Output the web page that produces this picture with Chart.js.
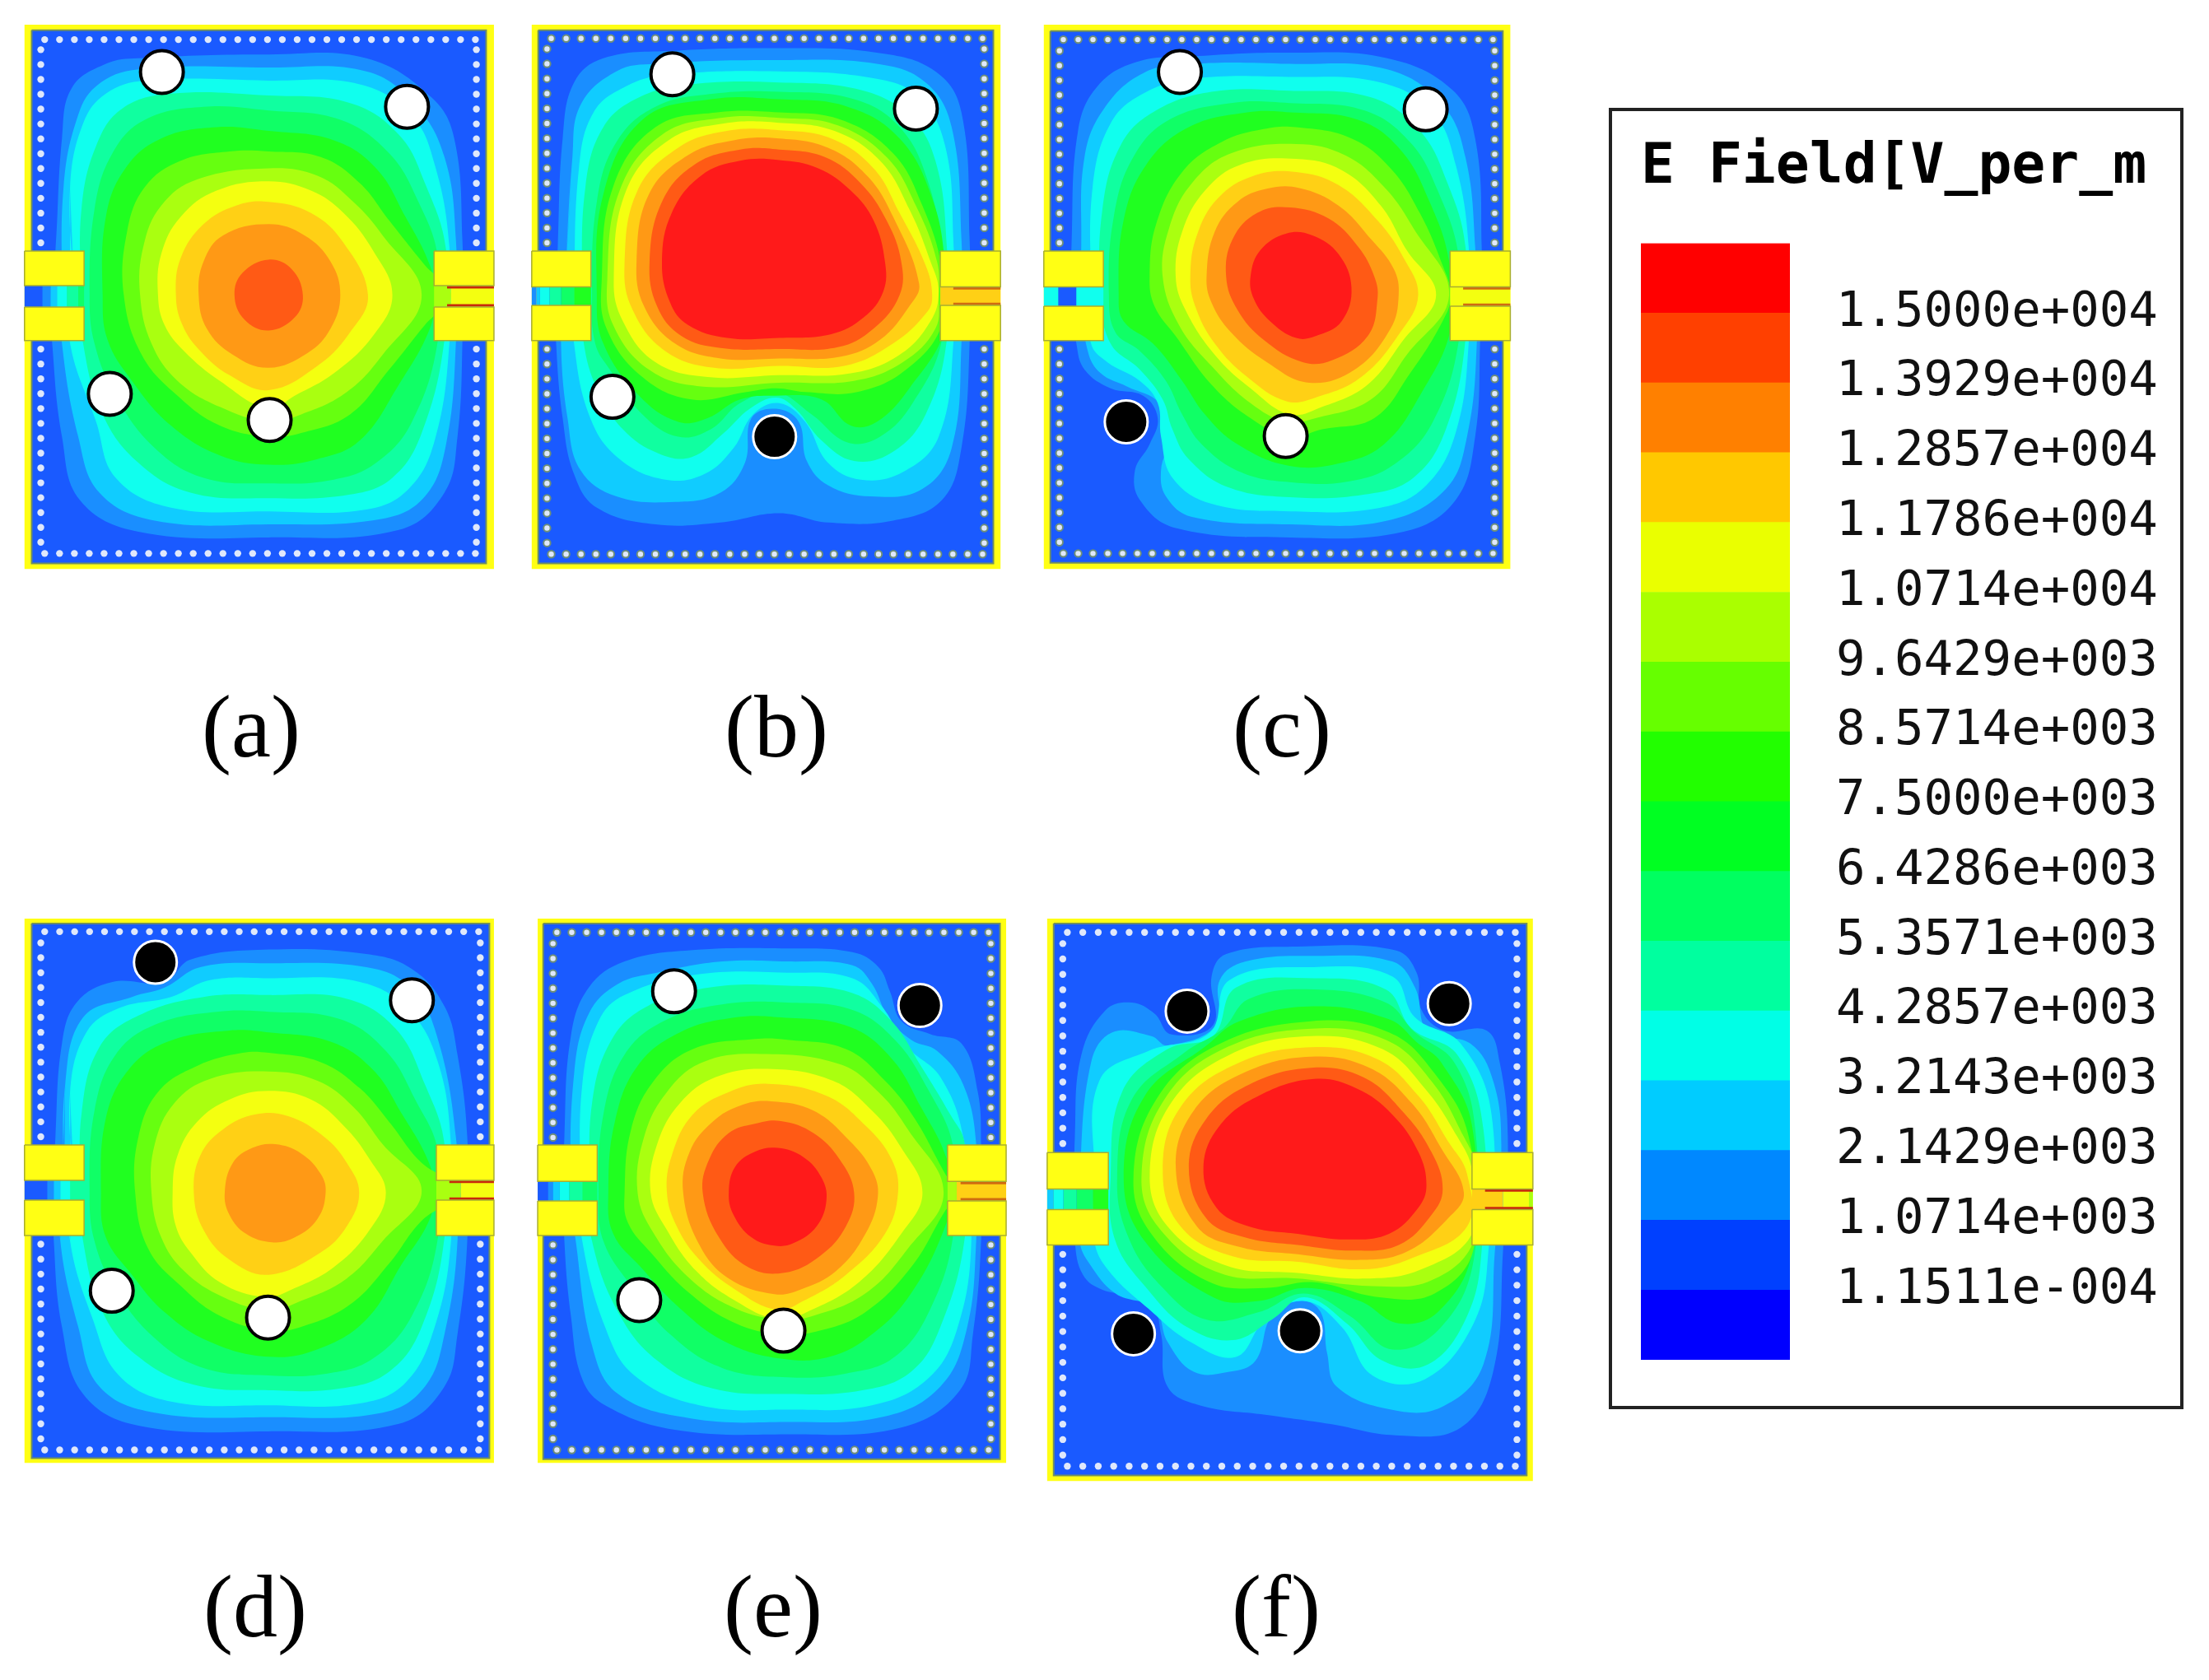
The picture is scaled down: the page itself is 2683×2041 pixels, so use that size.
<!DOCTYPE html>
<html>
<head>
<meta charset="utf-8">
<title>E Field</title>
<script src="https://cdn.jsdelivr.net/npm/chart.js@4"></script>
<style>
html, body { margin: 0; padding: 0; background: #fff; width: 2683px; height: 2041px; overflow: hidden; }
canvas { position: absolute; }
#legendBox { position: absolute; left: 1954px; top: 131px; width: 698px; height: 1581px; box-sizing: border-box; border: 4px solid #222; }
</style>
</head>
<body>
<div id="legendBox"></div>
<script>
// colour bar
const tickLabels = ['1.1511e-004','1.0714e+003','2.1429e+003','3.2143e+003','4.2857e+003','5.3571e+003','6.4286e+003','7.5000e+003','8.5714e+003','9.6429e+003','1.0714e+004','1.1786e+004','1.2857e+004','1.3929e+004','1.5000e+004'];
const levelValues = [0.00011511,1071.4,2142.9,3214.3,4285.7,5357.1,6428.6,7500,8571.4,9642.9,10714,11786,12857,13929,15000];
const bandColors = ['#0000ff','#0040ff','#0088ff','#00ccff','#00ffe6','#00ff9f','#00ff60','#00ff22','#22ff00','#66ff00','#aaff00','#eaff00','#ffc800','#ff8000','#ff4000','#ff0000'];

// colours of the field plots, lowest contour first
const fieldBase = '#1a5aff';
const fieldColors = ['#1a8eff','#10ccff','#10ffee','#10ffa0','#10ff66','#20ff20','#66ff10','#aaff10','#f4ff10','#ffd015','#ff9915','#ff5a15','#ff1a1a'];

const panelLabels = ['(a)','(b)','(c)','(d)','(e)','(f)'];

// contour outlines, x,y pairs, lowest level first
const contoursA = [
 [130,770,145,650,165,350,195,215,300,150,400,135,800,125,1100,135,1300,240,1370,350,1395,620,1395,900,1380,1150,1340,1300,1200,1400,800,1420,400,1405,220,1320,165,1150,135,900],
 [165,770,170,480,210,300,270,210,400,165,800,160,1100,170,1250,260,1340,400,1375,620,1375,900,1345,1170,1280,1310,1150,1370,800,1385,450,1375,280,1300,215,1150,165,900],
 [200,770,190,480,230,310,300,230,420,195,800,195,1080,205,1240,290,1310,420,1355,640,1355,900,1310,1160,1230,1290,1100,1345,800,1350,500,1340,330,1260,270,1110,190,900],
 [225,770,225,540,270,370,350,270,500,230,800,235,1050,255,1200,340,1280,470,1345,650,1340,890,1270,1140,1180,1260,1050,1305,800,1315,560,1300,400,1220,290,1090,230,900],
 [250,770,265,540,320,390,420,300,600,265,800,275,1020,300,1170,390,1260,520,1320,670,1320,890,1240,1110,1130,1220,1000,1265,800,1275,600,1260,450,1180,330,1040,265,900],
 [290,770,300,560,360,430,470,350,640,320,800,330,1000,355,1130,430,1220,560,1295,690,1310,770,1295,860,1200,1010,1080,1160,950,1210,800,1225,650,1200,500,1120,380,1000,305,890],
 [355,770,365,600,420,480,530,410,680,385,800,385,960,400,1080,470,1170,570,1280,690,1360,770,1280,850,1170,970,1050,1090,900,1140,800,1150,650,1120,520,1040,410,930],
 [405,770,415,640,470,530,580,460,800,430,950,450,1060,520,1150,610,1270,770,1150,930,1040,1030,900,1090,800,1110,650,1070,520,1000,440,900],
 [460,770,470,660,530,560,640,490,800,465,930,490,1030,550,1120,650,1180,770,1120,880,1000,980,880,1040,800,1075,650,1000,540,920,480,850],
 [515,770,530,670,600,580,700,530,800,520,930,550,1030,630,1105,770,1050,870,950,960,800,1025,680,985,590,920,535,850],
 [585,770,600,680,660,610,800,580,910,610,990,680,1020,770,990,860,920,925,800,965,690,930,610,860],
 [695,770,720,710,800,675,870,700,905,770,880,830,800,865,725,835]
];
const contoursB = [
 [115,770,120,640,135,350,170,200,260,135,470,115,800,108,1100,120,1280,170,1360,280,1385,620,1385,900,1360,1180,1300,1320,1150,1375,950,1380,800,1355,620,1380,420,1385,240,1340,170,1250,135,1100,115,900],
 [140,770,165,400,190,260,300,170,420,150,800,140,1100,150,1250,200,1330,320,1360,620,1360,900,1330,1180,1240,1290,1080,1310,950,1280,885,1215,860,1110,790,1075,715,1100,695,1220,620,1300,480,1325,300,1310,190,1240,150,1100,130,900],
 [170,770,185,430,230,280,330,210,450,180,800,170,1100,190,1230,240,1310,370,1335,620,1335,900,1290,1150,1180,1245,1050,1265,950,1220,880,1110,800,1060,720,1090,660,1180,570,1250,450,1265,310,1210,220,1100,170,900],
 [195,770,205,480,260,320,370,240,530,205,800,200,1050,220,1200,290,1280,410,1315,640,1315,890,1250,1090,1150,1190,1030,1215,930,1160,850,1075,790,1045,710,1075,630,1140,530,1205,430,1195,320,1130,240,1020,200,900],
 [225,770,240,520,300,360,420,265,600,230,800,225,1030,245,1170,320,1255,460,1300,660,1300,890,1210,1060,1110,1150,1010,1165,900,1090,790,1030,680,1060,590,1130,490,1150,380,1090,280,970,235,900],
 [240,770,260,500,380,300,590,245,800,245,1010,265,1170,350,1270,510,1310,690,1310,860,1200,1020,1100,1110,1020,1120,930,1050,790,1040,680,1050,580,1100,490,1110,370,1040,260,900],
 [255,730,290,480,420,320,610,280,800,280,990,300,1150,390,1240,530,1300,700,1300,850,1190,970,1040,1030,880,1030,790,1020,700,1030,530,1050,380,990,270,860],
 [272,730,310,490,440,340,620,295,800,295,980,315,1130,400,1220,530,1285,680,1290,770,1280,860,1180,950,1030,1000,800,1005,560,1015,400,970,290,850],
 [292,730,330,490,460,355,630,310,800,308,970,330,1110,410,1200,540,1265,680,1290,760,1265,840,1170,930,1020,980,800,985,580,990,420,950,320,840],
 [325,690,365,490,490,375,640,330,800,328,960,350,1090,430,1170,550,1250,690,1270,770,1255,815,1150,900,1000,960,800,960,600,965,450,920,350,810],
 [362,680,400,500,520,395,660,355,800,350,950,375,1070,450,1150,560,1230,740,1200,800,1110,890,990,935,800,940,620,940,480,900,385,800],
 [402,680,440,520,540,420,680,380,800,380,940,400,1050,470,1130,570,1175,680,1170,770,1090,860,980,910,800,915,620,912,500,880,425,800],
 [440,680,470,550,560,450,680,410,800,408,920,430,1020,490,1090,570,1125,680,1120,760,1060,830,960,875,800,885,640,885,520,850,465,790]
];
const contoursC = [
 [130,770,130,640,150,330,210,210,330,145,500,130,800,120,1100,135,1300,220,1370,350,1390,640,1385,900,1370,1150,1310,1320,1150,1405,800,1420,450,1395,340,1320,325,1240,370,1170,395,1100,350,1040,250,1020,170,970,145,900],
 [160,770,160,640,170,400,230,270,350,175,500,150,800,150,1100,165,1270,260,1340,400,1370,640,1375,900,1345,1150,1280,1290,1100,1375,800,1385,500,1365,420,1310,405,1240,430,1150,400,1060,300,1015,220,980,180,920],
 [190,770,195,480,250,310,350,230,500,190,800,185,1080,200,1240,280,1310,420,1350,640,1350,900,1310,1140,1220,1280,1080,1340,800,1350,560,1330,440,1260,405,1150,395,1060,340,1000,240,950,190,900],
 [220,770,225,540,280,370,380,280,560,225,800,222,1050,240,1200,330,1285,470,1340,640,1340,890,1280,1130,1180,1260,1030,1305,800,1312,610,1285,490,1210,440,1130,410,1050,340,970,250,900],
 [245,770,260,560,320,400,430,300,620,255,800,255,1030,275,1170,360,1255,490,1320,670,1320,890,1240,1110,1120,1225,980,1270,800,1272,650,1245,530,1170,470,1090,420,1000,340,920,265,870],
 [275,770,290,570,360,420,490,320,670,280,800,280,1010,300,1140,380,1230,520,1290,680,1295,860,1200,1040,1090,1170,960,1220,800,1228,640,1170,540,1090,470,1000,380,900,290,840],
 [370,720,390,580,470,440,590,360,720,325,820,320,990,350,1110,430,1200,550,1270,690,1295,770,1270,840,1170,980,1060,1100,900,1130,800,1150,680,1100,560,1010,450,880,385,800],
 [410,720,430,590,500,470,620,390,820,365,970,395,1090,480,1180,590,1290,770,1160,930,1050,1050,880,1100,790,1110,680,1060,560,960,460,850],
 [450,720,470,600,540,490,650,420,820,405,960,435,1080,530,1160,650,1250,770,1150,890,1040,1010,900,1070,800,1090,680,1020,570,930,480,810],
 [495,720,515,610,580,510,690,450,820,440,950,475,1070,570,1150,670,1195,770,1140,870,1020,990,880,1045,790,1055,670,990,570,900,510,800],
 [545,720,570,600,640,520,730,485,830,483,950,530,1050,620,1120,700,1135,770,1110,860,1000,970,860,1005,730,950,620,870,560,790],
 [605,720,625,620,700,550,800,535,920,565,1010,640,1060,720,1070,780,1040,880,930,945,840,950,720,890,640,810],
 [680,720,710,650,790,605,870,610,950,660,990,750,960,840,880,880,820,885,740,840,690,780]
];
const contoursD = [
 [140,770,145,620,165,370,210,260,320,205,480,205,560,145,800,118,1100,130,1240,170,1340,270,1380,400,1410,620,1410,900,1380,1150,1340,1290,1200,1390,800,1410,400,1395,230,1310,165,1130,140,900],
 [170,770,175,480,230,300,380,245,480,220,590,165,800,155,1100,165,1230,215,1310,330,1375,620,1380,900,1340,1150,1280,1290,1150,1360,800,1372,450,1360,280,1290,215,1130,160,900],
 [200,770,190,500,240,340,340,275,500,245,620,200,800,195,1080,205,1230,280,1320,420,1360,640,1360,900,1310,1130,1220,1280,1080,1335,800,1340,500,1330,340,1260,260,1110,190,900],
 [225,770,225,560,280,380,400,295,600,245,800,240,1040,250,1190,330,1280,480,1340,640,1340,890,1270,1130,1170,1250,1020,1295,800,1300,570,1285,400,1210,290,1090,230,900],
 [250,770,265,550,330,400,450,320,640,285,800,285,1020,305,1160,390,1250,520,1320,660,1320,890,1240,1100,1120,1215,980,1255,800,1260,600,1240,450,1160,330,1030,265,900],
 [285,770,300,570,370,440,490,365,680,335,800,340,990,365,1120,440,1210,560,1290,685,1310,770,1290,850,1210,960,1100,1110,950,1190,800,1210,620,1170,480,1090,380,990,300,890],
 [390,770,400,620,460,500,580,430,720,395,800,395,960,420,1080,490,1170,580,1270,690,1390,765,1270,845,1170,960,1050,1070,900,1130,800,1140,650,1100,530,1020,430,920],
 [440,770,450,640,510,530,620,465,800,445,950,470,1060,540,1150,640,1270,765,1150,900,1040,1000,900,1060,800,1085,660,1050,540,980,470,890],
 [505,770,520,670,580,580,680,520,800,497,930,520,1030,590,1110,680,1160,770,1110,870,1000,970,870,1030,790,1050,650,1010,560,930,515,860],
 [570,770,590,670,660,600,760,560,860,565,970,620,1040,690,1078,770,1040,860,960,930,800,990,680,950,600,870],
 [665,770,690,690,750,650,820,640,900,665,960,720,975,770,950,840,880,890,810,903,730,880,680,830]
];
const contoursE = [
 [115,770,115,620,135,350,190,220,300,150,500,120,800,115,1000,125,1080,165,1115,230,1150,310,1240,345,1335,370,1385,500,1395,640,1395,900,1370,1150,1330,1300,1150,1400,800,1418,450,1405,240,1340,170,1270,135,1100,115,900],
 [135,770,145,450,190,290,280,210,400,180,600,150,800,150,1000,160,1060,210,1110,300,1180,360,1260,390,1340,480,1380,640,1380,900,1350,1140,1270,1290,1100,1370,800,1385,500,1375,280,1310,200,1180,150,900],
 [165,770,170,480,220,310,300,240,520,185,800,180,1000,195,1090,270,1170,380,1270,460,1340,620,1365,900,1320,1140,1230,1270,1060,1340,800,1352,530,1340,330,1260,240,1130,170,900],
 [195,770,200,530,260,360,370,270,560,220,800,215,1000,235,1120,310,1210,430,1300,560,1345,640,1345,890,1270,1130,1180,1250,1030,1300,800,1310,570,1295,400,1220,280,1090,200,900],
 [220,770,235,560,300,400,420,310,600,265,800,260,1000,280,1130,360,1230,490,1310,650,1310,880,1240,1080,1130,1210,980,1255,800,1265,600,1240,440,1150,320,1020,235,900],
 [250,770,270,580,340,430,470,340,640,300,780,300,990,325,1120,410,1210,540,1290,680,1300,770,1285,860,1180,1040,1060,1150,930,1210,780,1215,610,1170,470,1080,350,970,265,880],
 [300,770,320,600,390,470,510,385,700,358,800,360,980,385,1100,470,1190,570,1285,720,1320,770,1280,825,1180,970,1040,1090,900,1140,780,1150,640,1120,500,1040,380,930,310,850],
 [340,770,360,620,430,500,540,420,720,398,960,425,1080,500,1170,600,1280,770,1170,920,1040,1040,880,1100,780,1110,640,1080,500,1000,390,880],
 [380,770,400,640,470,530,580,460,740,438,940,470,1060,550,1150,650,1215,770,1150,880,1020,1010,860,1090,770,1110,640,1060,520,980,430,870],
 [430,770,445,670,510,560,620,500,740,478,920,510,1040,590,1120,680,1140,770,1100,880,980,990,850,1060,770,1085,640,1030,530,950,460,860],
 [480,770,500,660,570,580,660,535,750,525,880,550,990,630,1060,710,1078,780,1040,880,950,980,840,1030,760,1042,620,1000,530,910],
 [540,770,560,680,620,610,700,585,780,578,880,610,960,680,1005,770,980,860,900,940,790,985,680,970,590,890],
 [620,770,640,700,700,660,770,650,850,675,905,730,920,790,890,860,820,905,760,912,690,890,635,830]
];
const contoursF = [
 [115,770,115,620,135,400,210,280,290,260,360,290,410,345,540,320,535,190,580,130,800,110,1100,120,1165,180,1180,280,1250,335,1380,335,1420,420,1445,620,1430,930,1400,1250,1300,1400,1100,1420,900,1390,700,1365,500,1340,400,1290,380,1150,345,1060,200,1030,140,990,115,900],
 [130,730,165,420,230,340,350,350,400,375,550,320,560,200,640,150,850,135,1090,150,1160,220,1200,340,1330,370,1400,470,1425,640,1405,930,1370,1230,1240,1345,1080,1350,920,1290,890,1200,870,1090,810,1060,720,1100,670,1220,590,1250,480,1250,400,1170,360,1080,240,1040,160,960,130,900],
 [175,730,190,470,340,390,530,340,590,200,850,165,1090,190,1160,300,1300,370,1395,560,1385,930,1340,1120,1190,1270,1030,1260,935,1130,820,1060,700,1110,610,1210,470,1170,340,1080,220,980,175,900],
 [225,730,260,500,400,385,540,350,610,220,850,195,1070,225,1150,330,1290,400,1370,600,1365,920,1320,1100,1200,1230,1060,1220,950,1120,820,1050,720,1110,600,1165,460,1130,340,1030,240,900],
 [245,730,290,520,450,395,570,330,650,250,850,225,1070,260,1160,340,1280,420,1345,600,1340,950,1240,1130,1090,1190,960,1100,820,1040,680,1090,520,1110,380,1020,280,890],
 [265,730,330,510,520,375,620,310,850,270,1080,305,1170,370,1240,420,1335,590,1335,930,1230,1090,1110,1120,990,1060,820,1025,680,1060,540,1050,330,900],
 [295,730,365,520,550,375,840,310,1080,340,1220,450,1325,620,1340,920,1220,1040,1050,1050,850,1010,700,1025,530,1010,350,880],
 [320,720,390,520,570,385,840,330,1070,360,1210,470,1310,620,1345,700,1340,900,1210,1005,1030,1020,800,1000,560,985,370,860],
 [345,720,410,530,590,400,840,350,1060,385,1190,490,1290,620,1335,710,1335,880,1180,975,1010,1000,800,985,580,965,400,860],
 [385,710,440,540,610,425,840,380,1040,410,1170,510,1260,630,1320,720,1320,860,1150,945,1000,975,800,955,600,940,440,860],
 [425,700,480,550,630,450,840,405,1020,435,1150,530,1240,650,1310,770,1260,840,1130,930,980,950,800,935,620,915,490,860],
 [465,700,520,570,650,480,840,435,1000,460,1120,550,1210,660,1245,760,1210,830,1110,910,970,925,800,910,640,890,520,840],
 [510,700,560,590,680,510,850,465,980,490,1090,560,1170,660,1195,750,1170,810,1080,880,950,895,800,880,650,860,550,810]
];

// feed slot colours: index into fieldColors (-1 = base) and where each band ends
const slotLeftA = [[-1,105],[0,130],[1,150],[2,180],[3,215],[4,233]];
const slotLeftB = [[0,55],[1,65],[2,95],[3,130],[4,170],[5,222]];
const slotLeftC = [[2,90],[-1,145],[2,228]];
const slotLeftD = [[-1,120],[0,140],[1,160],[2,190],[3,233]];
const slotLeftE = [[-1,65],[0,80],[1,100],[2,130],[3,170],[4,216]];
const slotLeftF = [[1,50],[2,80],[3,120],[4,170],[5,218]];
const slotRightA = [[7,1360],[8,1492]];
const slotRightB = [[9,1480]];
const slotRightC = [[8,1478]];
const slotRightD = [[7,1390],[8,1492]];
const slotRightE = [[7,1320],[9,1472]];
const slotRightF = [[9,1430],[8,1510],[7,1522]];

// shorted and open posts
const openPostsA = [[472,172],[1225,265],[312,1035],[803,1105]];
const shortPostsA = [];
const openPostsB = [[472,178],[1220,270],[288,1043]];
const shortPostsB = [[786,1150]];
const openPostsC = [[463,172],[1218,272],[788,1148]];
const shortPostsC = [[298,1110]];
const openPostsD = [[1240,254],[318,1033],[798,1105]];
const shortPostsD = [[452,152]];
const openPostsE = [[452,230],[345,1058],[788,1140]];
const shortPostsE = [[1207,268]];
const openPostsF = [];
const shortPostsF = [[460,283],[1265,263],[295,1148],[807,1140]];

const FX = 1568 / 620, FY = 1568 / 710;

const panels = [
 { label: 0, contours: contoursA, slotL: slotLeftA, slotR: slotRightA, open: openPostsA, short: shortPostsA, crop: [10,10], cx: 305, cy: 890, outer: [50,1492,45,1505], inner: [72,1468,60,1490], padX: [233,1308], padY: [652,745,802,892], viaY: [85,1463], viaX: [100,1438], rowX: [112,1435], colY: [112,630,915,1433], ring: null },
 { label: 1, contours: contoursB, slotL: slotLeftB, slotR: slotRightB, open: openPostsB, short: shortPostsB, crop: [630,10], cx: 943, cy: 890, outer: [40,1480,45,1505], inner: [60,1458,60,1490], padX: [222,1295], padY: [652,748,798,892], viaY: [82,1465], viaX: [87,1430], rowX: [100,1425], colY: [110,630,915,1435], ring: '#6f8f78' },
 { label: 2, contours: contoursC, slotL: slotLeftC, slotR: slotRightC, open: openPostsC, short: shortPostsC, crop: [1250,10], cx: 1557, cy: 890, outer: [45,1478,45,1505], inner: [65,1455,62,1488], padX: [228,1293], padY: [652,748,800,892], viaY: [85,1463], viaX: [93,1430], rowX: [105,1425], colY: [115,630,915,1433], ring: '#6f8f78' },
 { label: 3, contours: contoursD, slotL: slotLeftD, slotR: slotRightD, open: openPostsD, short: shortPostsD, crop: [10,1100], cx: 310, cy: 1959, outer: [50,1492,35,1495], inner: [72,1478,48,1482], padX: [233,1315], padY: [642,737,790,885], viaY: [70,1460], viaX: [100,1450], rowX: [112,1445], colY: [100,620,908,1430], ring: null },
 { label: 4, contours: contoursE, slotL: slotLeftE, slotR: slotRightE, open: openPostsE, short: shortPostsE, crop: [640,1100], cx: 939, cy: 1959, outer: [33,1472,35,1495], inner: [50,1453,48,1485], padX: [216,1292], padY: [642,740,792,885], viaY: [72,1460], viaX: [80,1425], rowX: [92,1418], colY: [102,622,910,1430], ring: '#6f8f78' },
 { label: 5, contours: contoursF, slotL: slotLeftF, slotR: slotRightF, open: openPostsF, short: shortPostsF, crop: [1260,1100], cx: 1550, cy: 1959, outer: [30,1522,35,1543], inner: [50,1503,48,1528], padX: [218,1335], padY: [662,760,815,910], viaY: [72,1503], viaX: [78,1473], rowX: [92,1468], colY: [102,638,935,1473], ring: null }
];

const toPoints = flat => {
    const pts = [];
    for (let i = 0; i < flat.length; i += 2) pts.push({ x: flat[i], y: flat[i + 1] });
    return pts;
};

// close the outline so the curve runs smoothly through the start point
const closeLoop = pts => [pts[pts.length - 1], ...pts, pts[0], pts[1]];

const rect = (x0, x1, y0, y1) => [{x:x0,y:y0},{x:x1,y:y0},{x:x1,y:y1},{x:x0,y:y1},{x:x0,y:y0}];

const solid = (data, color, border, borderWidth) => ({
    data, showLine: true, fill: 'shape', backgroundColor: color,
    borderColor: border || color, borderWidth: borderWidth || 0, pointRadius: 0, tension: 0
});

const spread = (a, b, n) => {
    const out = [];
    for (let i = 0; i < n; i++) out.push(a + (b - a) * i / (n - 1));
    return out;
};

const buildDatasets = p => {
    const [ox0, ox1, oy0, oy1] = p.outer;
    const [ix0, ix1, iy0, iy1] = p.inner;
    const [py0, py1, py2, py3] = p.padY;
    const padEdge = '#a8ad30';
    const ds = [];
    ds.push(solid(rect(ox0, ox1, oy0, oy1), '#ffff14'));
    ds.push(solid(rect(ix0, ix1, iy0, iy1), fieldBase, '#6f8f60', 2));
    p.contours.forEach((flat, i) => {
        const line = solid(closeLoop(toPoints(flat)), fieldColors[i]);
        line.tension = 0.4;
        ds.push(line);
    });
    // feed slots
    let from = ox0;
    p.slotL.forEach(([c, to]) => {
        ds.push(solid(rect(from, to, py1, py2), c < 0 ? fieldBase : fieldColors[c]));
        from = to;
    });
    from = p.padX[1];
    p.slotR.forEach(([c, to]) => {
        ds.push(solid(rect(from, to, py1, py2), fieldColors[c]));
        from = to;
    });
    // slot edges on the output side
    const edge = p.ring ? '#d06a10' : '#c8280c';
    ds.push({ data: [{x:p.padX[1]+40,y:py1+4},{x:ox1,y:py1+4}], showLine: true, borderColor: edge, borderWidth: 3, pointRadius: 0, fill: false });
    ds.push({ data: [{x:p.padX[1]+40,y:py2-4},{x:ox1,y:py2-4}], showLine: true, borderColor: edge, borderWidth: 3, pointRadius: 0, fill: false });
    // pads
    ds.push(solid(rect(ox0, p.padX[0], py0, py1), '#ffff14', padEdge, 1.5));
    ds.push(solid(rect(ox0, p.padX[0], py2, py3), '#ffff14', padEdge, 1.5));
    ds.push(solid(rect(p.padX[1], ox1, py0, py1), '#ffff14', padEdge, 1.5));
    ds.push(solid(rect(p.padX[1], ox1, py2, py3), '#ffff14', padEdge, 1.5));
    // vias along the board edge
    const vias = [];
    spread(p.rowX[0], p.rowX[1], 30).forEach(x => { vias.push({x, y:p.viaY[0]}); vias.push({x, y:p.viaY[1]}); });
    [...spread(p.colY[0], p.colY[1], 14), ...spread(p.colY[2], p.colY[3], 14)].forEach(y => { vias.push({x:p.viaX[0], y}); vias.push({x:p.viaX[1], y}); });
    ds.push({ data: vias, showLine: false, pointRadius: p.ring ? 4.2 : 4.2, pointBackgroundColor: '#dfe8fb',
        pointBorderColor: p.ring || '#dfe8fb', pointBorderWidth: p.ring ? 2 : 0 });
    // posts
    ds.push({ data: p.open.map(([x, y]) => ({x, y})), showLine: false, pointRadius: 26, pointBackgroundColor: '#ffffff', pointBorderColor: '#000000', pointBorderWidth: 4 });
    ds.push({ data: p.short.map(([x, y]) => ({x, y})), showLine: false, pointRadius: 26, pointBackgroundColor: '#000000', pointBorderColor: '#ffffff', pointBorderWidth: 3 });
    // first in the list has to be painted first
    ds.forEach((d, i) => { d.order = ds.length - i; });
    return ds;
};

const LABEL_SIZE = 108;
const LABEL_BOX = LABEL_SIZE * 1.2;
const CANVAS_W = 660;

panels.forEach(p => {
    const [cropX, cropY] = p.crop;
    const top = Math.round(cropY + p.outer[2] / FY);
    const areaH = Math.round((p.outer[3] - p.outer[2]) / FY);
    const left = p.cx - CANVAS_W / 2;
    const padTop = Math.round(p.cy - (top + areaH) - LABEL_BOX / 2);
    const canvas = document.createElement('canvas');
    canvas.width = CANVAS_W;
    canvas.height = Math.round(areaH + padTop + LABEL_BOX);
    canvas.style.left = left + 'px';
    canvas.style.top = top + 'px';
    document.body.appendChild(canvas);
    new Chart(canvas, {
        type: 'scatter',
        data: { datasets: buildDatasets(p) },
        options: {
            responsive: false,
            animation: false,
            devicePixelRatio: 1,
            layout: { padding: 0, autoPadding: false },
            scales: {
                x: { type: 'linear', display: false, min: (left - cropX) * FX, max: (left + CANVAS_W - cropX) * FX },
                y: { type: 'linear', display: false, reverse: true, min: p.outer[2], max: p.outer[3] }
            },
            plugins: {
                legend: { display: false },
                tooltip: { enabled: false },
                title: {
                    display: true, text: panelLabels[p.label], position: 'bottom', color: '#000',
                    padding: { top: padTop, bottom: 0 },
                    font: { family: '"Liberation Serif"', size: LABEL_SIZE, weight: 'normal', lineHeight: 1.2 }
                }
            }
        }
    });
});

// colour bar
const legendCanvas = document.createElement('canvas');
legendCanvas.width = 698;
legendCanvas.height = 1581;
legendCanvas.style.left = '1954px';
legendCanvas.style.top = '131px';
document.body.appendChild(legendCanvas);
const bandEdges = [-1071.4, ...levelValues, 16071.4];
new Chart(legendCanvas, {
    type: 'bar',
    data: {
        labels: [''],
        datasets: bandColors.map((color, i) => ({
            data: [[bandEdges[i], bandEdges[i + 1]]],
            backgroundColor: color, barPercentage: 1, categoryPercentage: 1
        }))
    },
    options: {
        responsive: false,
        animation: false,
        devicePixelRatio: 1,
        layout: { padding: { left: 39, right: 32, bottom: 60 }, autoPadding: false },
        scales: {
            x: { stacked: true, display: false },
            y: {
                position: 'right', min: bandEdges[0], max: bandEdges[16],
                border: { display: false },
                grid: { display: false, drawTicks: false },
                afterBuildTicks: scale => { scale.ticks = levelValues.map(value => ({ value })); },
                afterFit: scale => { scale.width = 446; scale.paddingTop = 0; scale.paddingBottom = 0; },
                ticks: {
                    autoSkip: false, padding: 56, color: '#111',
                    font: { family: '"DejaVu Sans Mono"', size: 59 },
                    callback: (value, index) => tickLabels[index]
                }
            }
        },
        plugins: {
            legend: { display: false },
            tooltip: { enabled: false },
            title: {
                display: true, text: 'E Field[V_per_m', align: 'start', color: '#000',
                padding: { top: 33, bottom: 50 },
                font: { family: '"DejaVu Sans Mono"', size: 68, weight: 'bold', lineHeight: 1.2 }
            }
        }
    }
});
</script>
</body>
</html>
